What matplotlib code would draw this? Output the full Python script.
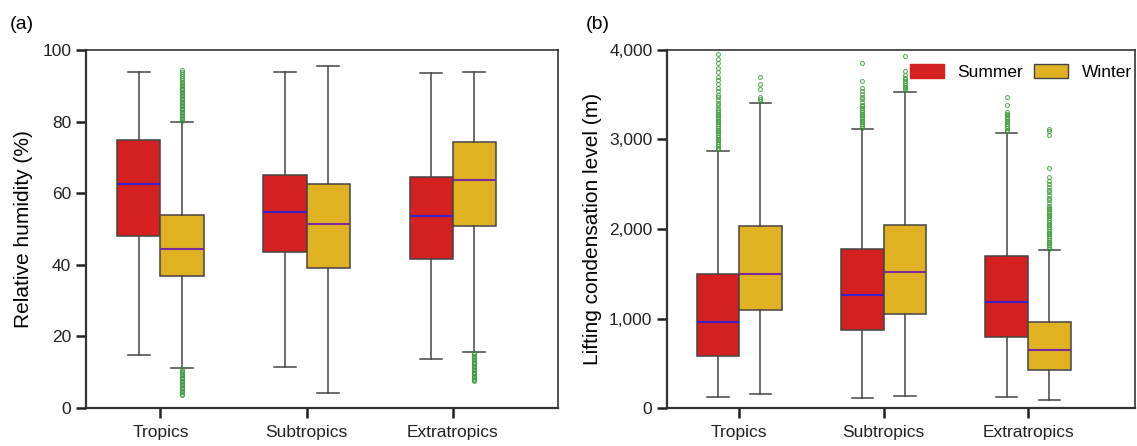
import numpy as np
import matplotlib.pyplot as plt
from matplotlib.patches import Patch

plt.rcParams['font.family'] = ['Liberation Sans', 'DejaVu Sans']

regions = ["Tropics", "Subtropics", "Extratropics"]

# relative humidity (%): whislo, q1, med, q3, whishi
rh_summer = [[14.7, 48.0, 62.6, 74.8, 93.8],
             [11.6, 43.6, 54.7, 65.2, 93.8],
             [13.8, 41.5, 53.6, 64.5, 93.5]]
rh_winter = [[11.2, 36.8, 44.5, 54.0, 79.9],
             [4.2, 39.0, 51.4, 62.6, 95.4],
             [15.8, 50.8, 63.7, 74.4, 93.9]]
rh_summer_fliers = [[], [], []]
rh_winter_fliers = [[80.3, 80.7, 81.1, 81.5, 81.9, 82.3, 82.7, 83.1, 83.5, 83.9, 84.3, 84.7,
                     85.1, 85.5, 85.9, 86.3, 86.7, 87.1, 87.5, 87.9, 88.3, 88.7, 89.1, 89.5,
                     89.9, 90.3, 90.7, 91.1, 91.6, 92.1, 92.6, 93.2, 93.8, 94.5,
                     10.8, 10.4, 10.0, 9.6, 9.2, 8.8, 8.4, 8.0, 7.6, 7.2, 6.8, 6.4, 6.0,
                     5.6, 5.2, 4.8, 4.4, 4.0, 3.6],
                    [],
                    [15.4, 15.0, 14.6, 14.2, 13.8, 13.4, 13.0, 12.6, 12.2, 11.8, 11.4, 11.0,
                     10.6, 10.2, 9.8, 9.4, 9.0, 8.6, 8.2, 7.8, 7.5]]

# lifting condensation level (m)
lcl_summer = [[123, 578, 962, 1502, 2870],
              [116, 876, 1267, 1778, 3113],
              [123, 794, 1185, 1704, 3068]]
lcl_winter = [[160, 1100, 1502, 2032, 3403],
              [130, 1055, 1521, 2047, 3530],
              [93, 421, 652, 962, 1763]]
lcl_summer_fliers = [[2890, 2910, 2930, 2950, 2970, 2990, 3010, 3030, 3050, 3070, 3090,
                      3110, 3130, 3150, 3170, 3190, 3210, 3230, 3250, 3270, 3290, 3310,
                      3330, 3350, 3380, 3410, 3440, 3470, 3500, 3540, 3580, 3620, 3660,
                      3700, 3750, 3800, 3850, 3900, 3950],
                     [3130, 3150, 3170, 3190, 3210, 3230, 3250, 3270, 3290, 3310, 3330,
                      3350, 3370, 3390, 3420, 3450, 3480, 3510, 3540, 3570, 3650, 3850],
                     [3090, 3110, 3130, 3150, 3170, 3190, 3210, 3230, 3250, 3270, 3290,
                      3310, 3380, 3480]]
lcl_winter_fliers = [[3430, 3450, 3480, 3560, 3620, 3700],
                     [3550, 3570, 3590, 3610, 3630, 3650, 3670, 3690, 3720, 3760, 3930],
                     [1780, 1800, 1820, 1840, 1860, 1880, 1900, 1920, 1940, 1960, 1980,
                      2000, 2020, 2040, 2060, 2080, 2100, 2120, 2140, 2160, 2180, 2200,
                      2220, 2240, 2260, 2290, 2320, 2350, 2380, 2410, 2440, 2470, 2500,
                      2540, 2580, 2680, 3050, 3090, 3120]]

red = "#d42020"
yellow = "#e0b222"


def make_stats(vals, fliers):
    out = []
    for v, f in zip(vals, fliers):
        out.append(dict(whislo=v[0], q1=v[1], med=v[2], q3=v[3], whishi=v[4], fliers=f))
    return out


def draw(ax, summer, winter, sfl, wfl):
    pos = np.arange(len(regions))
    w = 0.295
    for stats, off, col, mcol in [(make_stats(summer, sfl), -w / 2, red, "#3a22c8"),
                                  (make_stats(winter, wfl), w / 2, yellow, "#7a2a9a")]:
        ax.bxp(stats, positions=pos + off, widths=w, capwidths=w / 2, patch_artist=True,
               boxprops=dict(facecolor=col, edgecolor="#444444", linewidth=1.1),
               medianprops=dict(color=mcol, linewidth=1.5),
               whiskerprops=dict(color="#444444", linewidth=1.1),
               capprops=dict(color="#444444", linewidth=1.1),
               flierprops=dict(marker="o", markersize=2.8, markerfacecolor="none",
                               markeredgecolor="#2f9a2f", markeredgewidth=0.8, alpha=0.75),
               manage_ticks=False)
    ax.set_xticks(pos)
    ax.set_xticklabels(regions)
    ax.tick_params(axis="both", direction="out", length=7, width=1.8, labelsize=12.5,
                   colors="#222222")
    ax.tick_params(axis="x", length=7, pad=5)
    for s in ax.spines.values():
        s.set_linewidth(1.2)
        s.set_color("#333333")
    ax.spines["left"].set_linewidth(1.6)
    ax.spines["bottom"].set_linewidth(1.6)


fig = plt.figure(figsize=(11.37, 4.46), dpi=100)
ax1 = fig.add_axes([0.0756, 0.085, 0.415, 0.803])
ax2 = fig.add_axes([0.5866, 0.085, 0.4116, 0.803])

draw(ax1, rh_summer, rh_winter, rh_summer_fliers, rh_winter_fliers)
ax1.set_xlim(-0.51, 2.72)
ax1.set_ylim(0, 100)
ax1.set_yticks([0, 20, 40, 60, 80, 100])
ax1.set_ylabel("Relative humidity (%)", fontsize=15, labelpad=7)
fig.text(0.009, 0.935, "(a)", fontsize=14)

draw(ax2, lcl_summer, lcl_winter, lcl_summer_fliers, lcl_winter_fliers)
ax2.set_xlim(-0.5, 2.74)
ax2.set_ylim(0, 4000)
ax2.set_yticks([0, 1000, 2000, 3000, 4000])
ax2.set_yticklabels(["0", "1,000", "2,000", "3,000", "4,000"])
ax2.set_ylabel("Lifting condensation level (m)", fontsize=15, labelpad=5)
fig.text(0.515, 0.935, "(b)", fontsize=14)

handles = [Patch(facecolor=red, edgecolor=red, label="Summer"),
           Patch(facecolor=yellow, edgecolor="#444444", label="Winter")]
ax2.legend(handles=handles, loc="upper right", ncol=2, frameon=False, fontsize=12.5,
           handlelength=1.95, handleheight=0.85, columnspacing=0.6, handletextpad=0.8,
           borderaxespad=0.2, bbox_to_anchor=(1.015, 0.99))

fig.savefig("out.png", dpi=100)
